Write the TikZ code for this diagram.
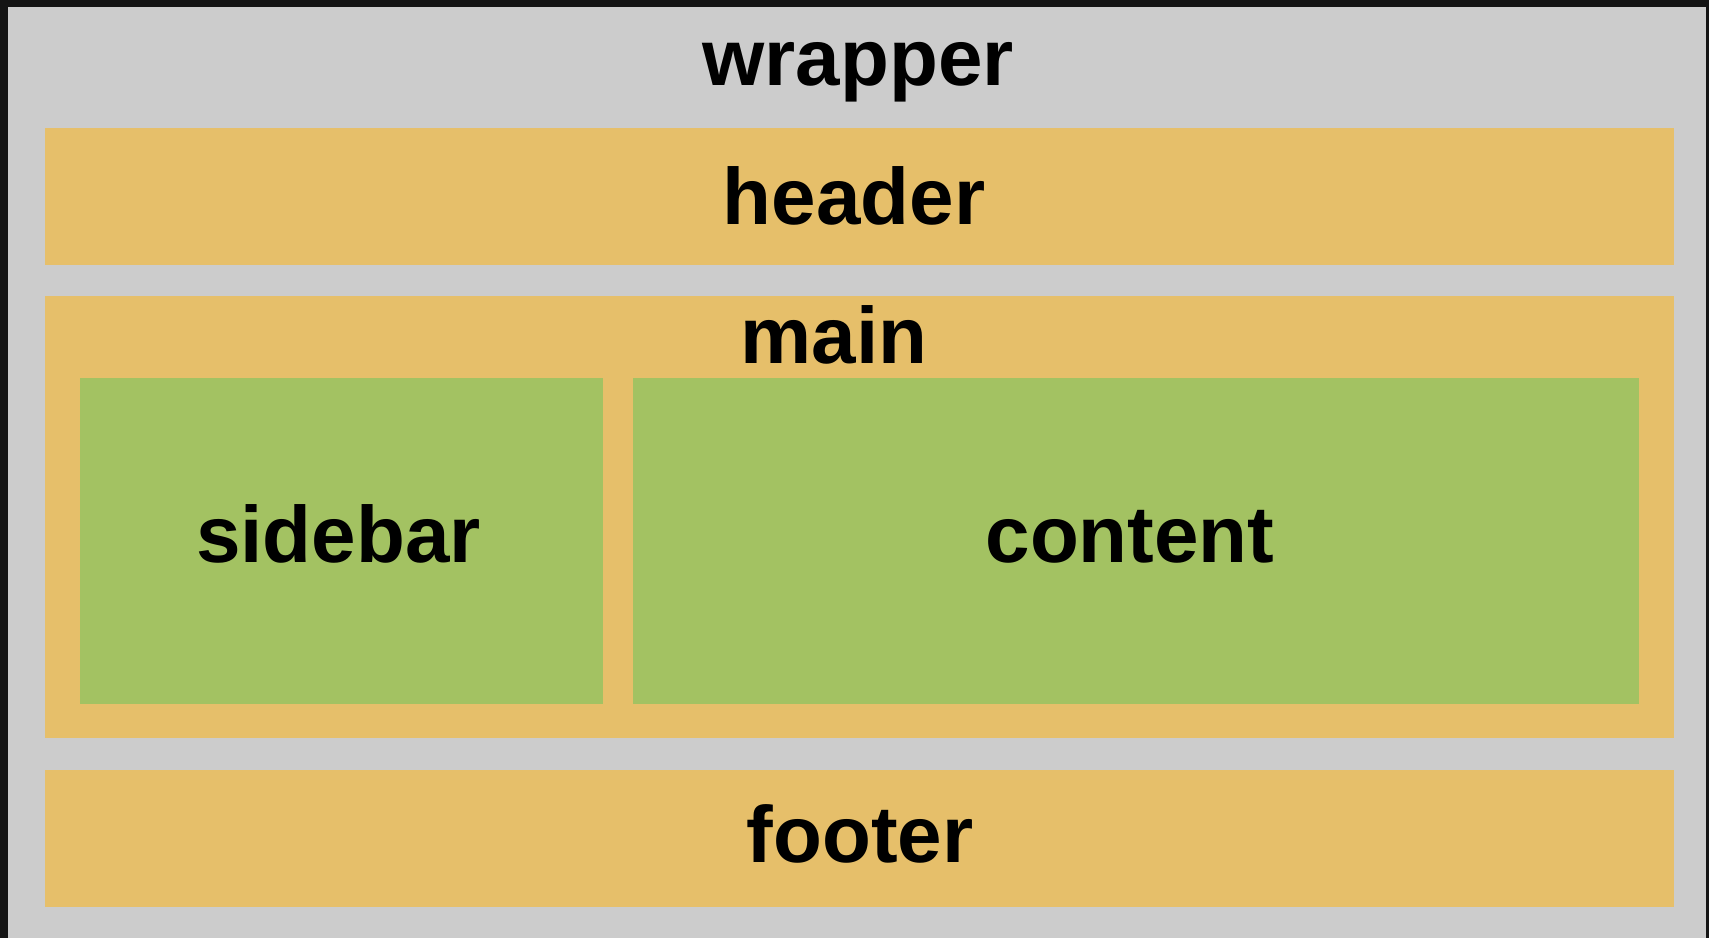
\documentclass[tikz,border=0pt]{standalone}
\usepackage{fontspec}
\setmainfont{Liberation Sans}
\definecolor{darkbg}{HTML}{141414}
\definecolor{wrapgray}{HTML}{CCCCCC}
\definecolor{boxorange}{HTML}{E6BF6A}
\definecolor{boxgreen}{HTML}{A3C262}
\tikzset{
  area/.style={draw=none, inner sep=0pt, outer sep=0pt, anchor=north west},
  orangebox/.style={area, fill=boxorange},
  greenbox/.style={area, fill=boxgreen},
  label/.style={anchor=base, inner sep=0pt, font=\fontsize{80}{96}\selectfont\bfseries, text=black},
}
\begin{document}
\begin{tikzpicture}[x=1pt, y=-1pt]
\useasboundingbox (0,0) rectangle (1709,938);
\fill[darkbg] (0,0) rectangle (1709,938);
\node[area, fill=wrapgray, minimum width=1698pt, minimum height=931pt] (wrapper) at (8,7) {};
\node[orangebox, minimum width=1629pt, minimum height=137pt] (header) at (45,128) {};
\node[orangebox, minimum width=1629pt, minimum height=442pt] (main) at (45,296) {};
\node[greenbox, minimum width=523pt, minimum height=326pt] (sidebar) at (80,378) {};
\node[greenbox, minimum width=1006pt, minimum height=326pt] (content) at (633,378) {};
\node[orangebox, minimum width=1629pt, minimum height=137pt] (footer) at (45,770) {};
\node[label] (wrappertxt) at (858,85) {wrapper};
\node[label] (headertxt) at (854,224) {header};
\node[label] (maintxt) at (834,363) {main};
\node[label] (sidebartxt) at (338.5,562) {sidebar};
\node[label] (contenttxt) at (1130,562) {content};
\node[label] (footertxt) at (860,862) {footer};
\end{tikzpicture}
\end{document}
